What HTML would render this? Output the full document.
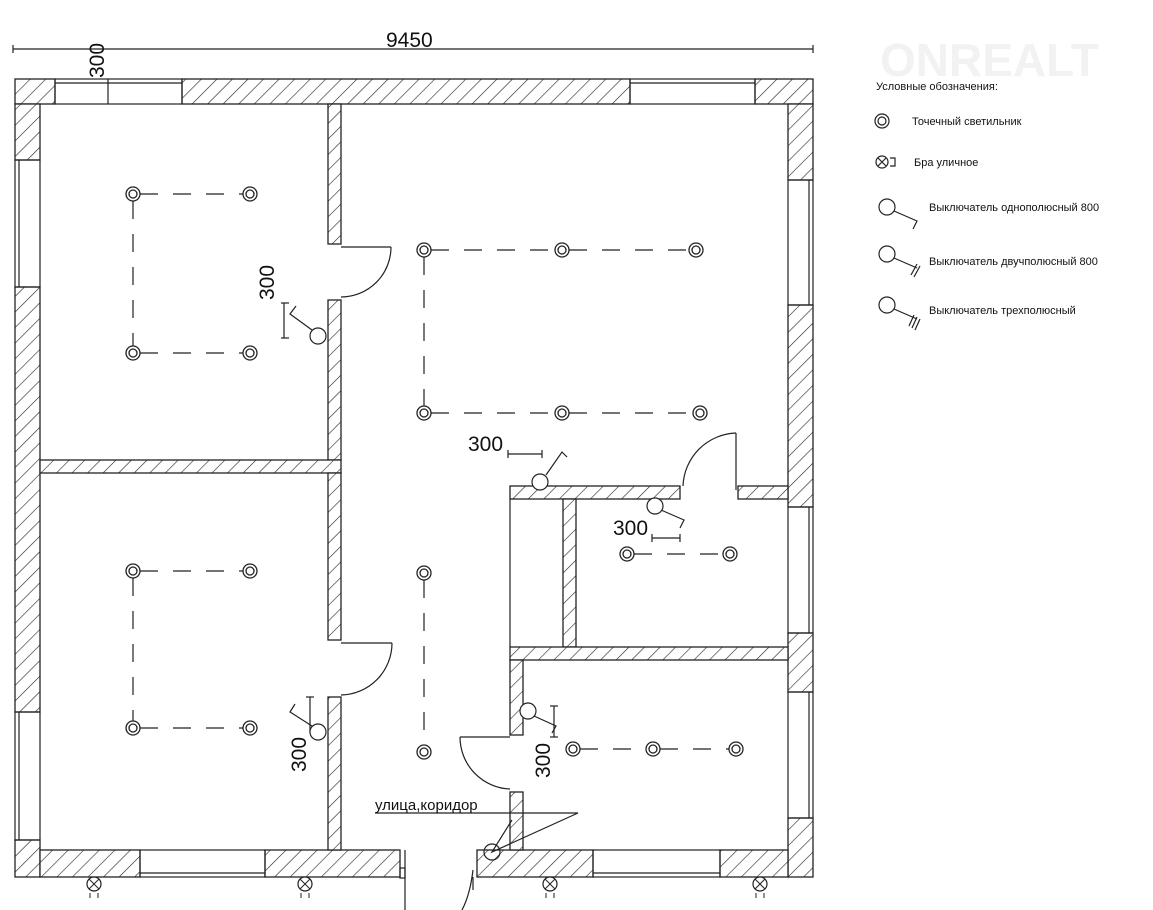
<!DOCTYPE html>
<html><head><meta charset="utf-8"><style>
html,body{margin:0;padding:0;background:#fff;width:1153px;height:910px;overflow:hidden}
svg{display:block}
text{font-family:"Liberation Sans",sans-serif;fill:#111}
</style></head><body>
<svg width="1153" height="910" viewBox="0 0 1153 910" xmlns="http://www.w3.org/2000/svg">
<defs>
<pattern id="h" width="11" height="11" patternUnits="userSpaceOnUse" patternTransform="rotate(45)">
<rect width="11" height="11" fill="#fff"/><line x1="0" y1="0" x2="0" y2="11" stroke="#222" stroke-width="1.2"/>
</pattern>
<g id="L"><circle r="7" fill="#fff" stroke="#222" stroke-width="1.3"/><circle r="4" fill="none" stroke="#222" stroke-width="1.3"/></g>
<g id="S"><circle r="7" fill="#fff" stroke="#222" stroke-width="1.2"/><line x1="-5" y1="-5" x2="5" y2="5" stroke="#222"/><line x1="5" y1="-5" x2="-5" y2="5" stroke="#222"/><line x1="-4" y1="9" x2="-4" y2="14" stroke="#222"/><line x1="4" y1="9" x2="4" y2="14" stroke="#222"/></g>
</defs>
<!-- watermark -->
<text x="880" y="76" font-size="46" font-weight="bold" fill="#f1f1f1" style="fill:#f2f2f2">ONREALT</text>
<g stroke="#222" stroke-width="1.3" fill="url(#h)">
<!-- top wall -->
<rect x="15" y="79" width="40" height="25"/><rect x="182" y="79" width="448" height="25"/><rect x="755" y="79" width="58" height="25"/>
<!-- left wall -->
<rect x="15" y="104" width="25" height="56"/><rect x="15" y="287" width="25" height="425"/><rect x="15" y="840" width="25" height="37"/>
<!-- right wall -->
<rect x="788" y="104" width="25" height="76"/><rect x="788" y="305" width="25" height="202"/><rect x="788" y="633" width="25" height="59"/><rect x="788" y="818" width="25" height="59"/>
<!-- bottom wall -->
<rect x="40" y="850" width="100" height="27"/><rect x="265" y="850" width="135" height="27"/><rect x="477" y="850" width="116" height="27"/><rect x="720" y="850" width="68" height="27"/>
<!-- interior -->
<rect x="328" y="104" width="13" height="140"/><rect x="328" y="300" width="13" height="160"/>
<rect x="40" y="460" width="301" height="13"/>
<rect x="328" y="473" width="13" height="167"/><rect x="328" y="697" width="13" height="153"/>
<rect x="510" y="486" width="170" height="13"/><rect x="738" y="486" width="50" height="13"/>
<rect x="563" y="499" width="13" height="148"/>
<rect x="510" y="647" width="278" height="13"/>
<rect x="510" y="660" width="13" height="75"/><rect x="510" y="792" width="13" height="58"/>
</g>
<g stroke="#222" stroke-width="1.2" fill="none">
<!-- windows -->
<rect x="55" y="79" width="127" height="25"/><line x1="55" y1="83" x2="182" y2="83"/>
<rect x="630" y="79" width="125" height="25"/><line x1="630" y1="83" x2="755" y2="83"/>
<rect x="15" y="160" width="25" height="127"/><line x1="19" y1="160" x2="19" y2="287"/>
<rect x="15" y="712" width="25" height="128"/><line x1="19" y1="712" x2="19" y2="840"/>
<rect x="788" y="180" width="25" height="125"/><line x1="809" y1="180" x2="809" y2="305"/>
<rect x="788" y="507" width="25" height="126"/><line x1="809" y1="507" x2="809" y2="633"/>
<rect x="788" y="692" width="25" height="126"/><line x1="809" y1="692" x2="809" y2="818"/>
<rect x="140" y="850" width="125" height="27"/><line x1="140" y1="873" x2="265" y2="873"/>
<rect x="593" y="850" width="127" height="27"/><line x1="593" y1="873" x2="720" y2="873"/>
<line x1="510" y1="499" x2="510" y2="647"/>
<!-- doors -->
<line x1="341" y1="247" x2="391" y2="247"/><path d="M391 247 A50 50 0 0 1 341 297"/>
<line x1="341" y1="643" x2="392" y2="643"/><path d="M392 643 A52 52 0 0 1 341 695"/>
<line x1="736" y1="433" x2="736" y2="490"/><path d="M736 433 A55 55 0 0 0 683 486"/>
<line x1="460" y1="737" x2="510" y2="737"/><path d="M460 737 A52 52 0 0 0 510 789"/>
<line x1="405" y1="850" x2="405" y2="910"/><rect x="400" y="868" width="5" height="10"/>
<line x1="473" y1="877" x2="473" y2="890"/><path d="M473 870 Q470 895 462 910"/>
<!-- dimension -->
<line x1="13" y1="49" x2="813" y2="49"/><line x1="13" y1="45" x2="13" y2="53"/><line x1="813" y1="45" x2="813" y2="53"/>
<line x1="108" y1="79" x2="108" y2="104"/>
<line x1="284" y1="303" x2="284" y2="338"/><line x1="281" y1="303" x2="289" y2="303"/><line x1="281" y1="338" x2="289" y2="338"/>
<line x1="508" y1="454" x2="542" y2="454"/><line x1="508" y1="450" x2="508" y2="458"/><line x1="542" y1="450" x2="542" y2="458"/>
<line x1="652" y1="538" x2="680" y2="538"/><line x1="652" y1="534" x2="652" y2="542"/><line x1="680" y1="534" x2="680" y2="542"/>
<line x1="310" y1="697" x2="310" y2="733"/><line x1="306" y1="697" x2="314" y2="697"/>
<line x1="554" y1="706" x2="554" y2="737"/><line x1="550" y1="706" x2="558" y2="706"/><line x1="550" y1="737" x2="558" y2="737"/>
<!-- dashed light lines -->
<g stroke-dasharray="18 15">
<path d="M140 194 H243 M133 201 V346 M140 353 H243"/>
<path d="M431 250 H555 M569 250 H689 M424 257 V406 M431 413 H555 M569 413 H693"/>
<path d="M424 580 V745"/>
<path d="M140 571 H243 M133 578 V721 M140 728 H243"/>
<path d="M634 554 H723"/>
<path d="M580 749 H646 M660 749 H729"/>
</g>
<!-- switch leads -->
<path d="M312 330 L290 314 L296 306"/>
<path d="M546 475 L562 452 L567 457"/>
<path d="M661 510 L684 520 L680 528"/>
<path d="M312 726 L290 712 L295 704"/>
<path d="M534 716 L556 726 L552 733"/>
<path d="M375 813 H578 L492 852 L512 820"/>
</g>
<g fill="#fff" stroke="#222" stroke-width="1.2">
<circle cx="318" cy="336" r="8"/><circle cx="540" cy="482" r="8"/><circle cx="655" cy="506" r="8"/>
<circle cx="318" cy="732" r="8"/><circle cx="528" cy="711" r="8"/><circle cx="492" cy="852" r="8" fill="none"/>
</g>
<g>
<use href="#L" x="133" y="194"/><use href="#L" x="250" y="194"/><use href="#L" x="133" y="353"/><use href="#L" x="250" y="353"/>
<use href="#L" x="424" y="250"/><use href="#L" x="562" y="250"/><use href="#L" x="696" y="250"/>
<use href="#L" x="424" y="413"/><use href="#L" x="562" y="413"/><use href="#L" x="700" y="413"/>
<use href="#L" x="424" y="573"/><use href="#L" x="424" y="752"/>
<use href="#L" x="133" y="571"/><use href="#L" x="250" y="571"/><use href="#L" x="133" y="728"/><use href="#L" x="250" y="728"/>
<use href="#L" x="627" y="554"/><use href="#L" x="730" y="554"/>
<use href="#L" x="573" y="749"/><use href="#L" x="653" y="749"/><use href="#L" x="736" y="749"/>
<use href="#S" x="94" y="884"/><use href="#S" x="305" y="884"/><use href="#S" x="550" y="884"/><use href="#S" x="760" y="884"/>
</g>
<text x="386" y="47" font-size="21">9450</text>
<text x="0" y="0" font-size="21" transform="translate(104,78) rotate(-90)">300</text>
<text x="0" y="0" font-size="21" transform="translate(274,300) rotate(-90)">300</text>
<text x="468" y="451" font-size="21">300</text>
<text x="613" y="535" font-size="21">300</text>
<text x="0" y="0" font-size="21" transform="translate(306,772) rotate(-90)">300</text>
<text x="0" y="0" font-size="21" transform="translate(550,778) rotate(-90)">300</text>
<text x="375" y="810" font-size="15">улица,коридор</text>
<!-- legend -->
<g font-size="11">
<text x="876" y="90">Условные обозначения:</text>
<text x="912" y="125">Точечный светильник</text>
<text x="914" y="166">Бра уличное</text>
<text x="929" y="211">Выключатель однополюсный 800</text>
<text x="929" y="265">Выключатель двучполюсный 800</text>
<text x="929" y="314">Выключатель трехполюсный</text>
</g>
<g stroke="#222" stroke-width="1.2" fill="none">
<circle cx="882" cy="121" r="7"/><circle cx="882" cy="121" r="4"/>
<circle cx="882" cy="162" r="6"/><path d="M878 158 L886 166 M886 158 L878 166 M890 158 H895 V166 H890"/>
<circle cx="887" cy="207" r="8"/><path d="M894 211 L917 221 L913 229"/>
<circle cx="887" cy="254" r="8"/><path d="M894 258 L917 268 M917 264 L911 275 M920 266 L914 277"/>
<circle cx="887" cy="305" r="8"/><path d="M894 309 L917 319 M914 315 L909 326 M917 317 L912 328 M920 319 L915 330"/>
</g>
</svg>
</body></html>
